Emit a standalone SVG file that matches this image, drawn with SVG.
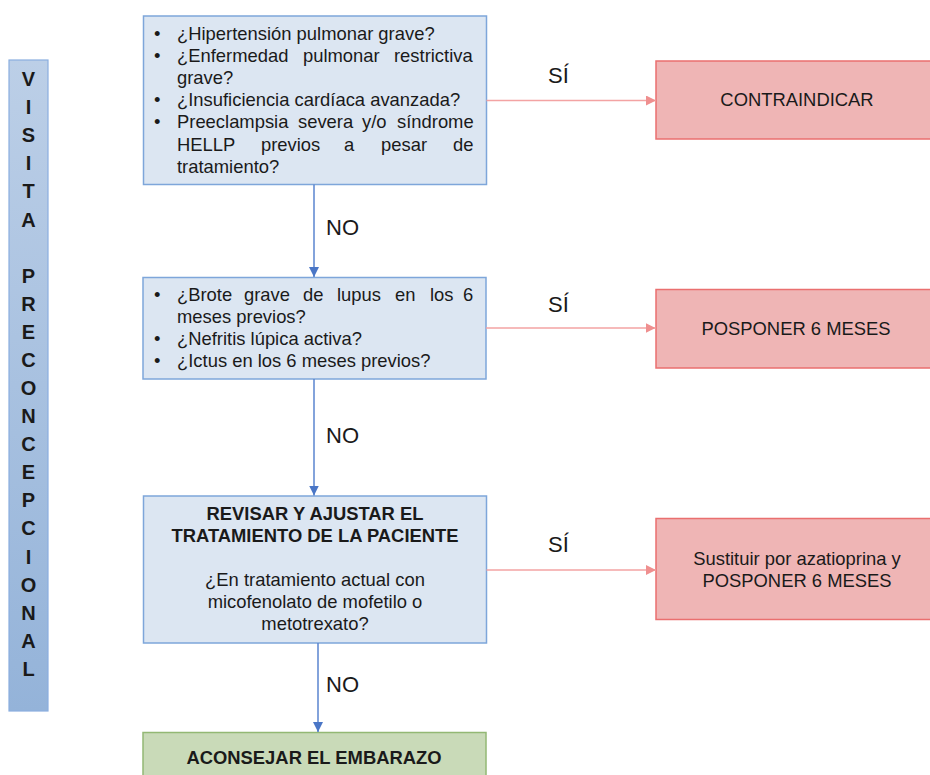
<svg xmlns="http://www.w3.org/2000/svg" width="930" height="775" viewBox="0 0 930 775">
<defs>
<linearGradient id="barGrad" x1="0" y1="0" x2="0" y2="1">
<stop offset="0" stop-color="#bccfe7"/>
<stop offset="1" stop-color="#94b3d9"/>
</linearGradient>
<marker id="arrBlue" viewBox="0 0 10 10" refX="10" refY="5" markerWidth="10" markerHeight="10" markerUnits="userSpaceOnUse" orient="auto">
<path d="M0,0 L10,5 L0,10 z" fill="#4a76c6"/>
</marker>
<marker id="arrRed" viewBox="0 0 10 10" refX="10" refY="5" markerWidth="10" markerHeight="10" markerUnits="userSpaceOnUse" orient="auto">
<path d="M0,0 L10,5 L0,10 z" fill="#ef8f8f"/>
</marker>
</defs>
<style>
text { font-family: "Liberation Sans", Arial, sans-serif; fill: #1a1a1a; font-size: 18.4px; }
.b { font-weight: bold; }
.c { text-anchor: middle; }
.q { fill: #dce6f2; stroke: #7ea6da; stroke-width: 1.5; }
.r { fill: #efb5b5; stroke: #ea6f6f; stroke-width: 1.5; }
.g { fill: #c9dab8; stroke: #93b874; stroke-width: 1.5; }
.bl { stroke: #5a84cf; stroke-width: 1.5; fill: none; }
.rl { stroke: #f3a3a3; stroke-width: 1.5; fill: none; }
.v { font-weight: bold; text-anchor: middle; font-size: 20px; }
.lbl { font-size: 22px; }
</style>
<rect width="930" height="775" fill="#ffffff"/>

<g id="side-bar">
<rect x="9" y="60" width="39" height="651" fill="url(#barGrad)" stroke="#8aaee0" stroke-width="1.2"/>
<text class="v" x="28.5" y="86">V</text>
<text class="v" x="28.5" y="114">I</text>
<text class="v" x="28.5" y="142">S</text>
<text class="v" x="28.5" y="170">I</text>
<text class="v" x="28.5" y="198">T</text>
<text class="v" x="28.5" y="227">A</text>
<text class="v" x="28.5" y="283">P</text>
<text class="v" x="28.5" y="311">R</text>
<text class="v" x="28.5" y="339">E</text>
<text class="v" x="28.5" y="367">C</text>
<text class="v" x="28.5" y="395">O</text>
<text class="v" x="28.5" y="423">N</text>
<text class="v" x="28.5" y="451">C</text>
<text class="v" x="28.5" y="479">E</text>
<text class="v" x="28.5" y="507">P</text>
<text class="v" x="28.5" y="535">C</text>
<text class="v" x="28.5" y="564">I</text>
<text class="v" x="28.5" y="592">O</text>
<text class="v" x="28.5" y="620">N</text>
<text class="v" x="28.5" y="648">A</text>
<text class="v" x="28.5" y="676">L</text>
</g>

<g id="q1">
<rect class="q" x="143.5" y="16" width="343" height="168.5"/>
<text x="154" y="39.5">•</text><text x="177" y="39.5">¿Hipertensión pulmonar grave?</text>
<text x="154" y="61.7">•</text><text y="61.7"><tspan x="177">¿Enfermedad</tspan><tspan x="303">pulmonar</tspan><tspan x="394">restrictiva</tspan></text>
<text x="177" y="83.9">grave?</text>
<text x="154" y="106.1">•</text><text x="177" y="106.1">¿Insuficiencia cardíaca avanzada?</text>
<text x="154" y="128.3">•</text><text y="128.3"><tspan x="177">Preeclampsia</tspan><tspan x="298">severa</tspan><tspan x="362">y/o</tspan><tspan x="397">síndrome</tspan></text>
<text y="150.5"><tspan x="177">HELLP</tspan><tspan x="261">previos</tspan><tspan x="344">a</tspan><tspan x="381">pesar</tspan><tspan x="453">de</tspan></text>
<text x="177" y="172.7">tratamiento?</text>
</g>

<g id="q2">
<rect class="q" x="143" y="277.5" width="343" height="101.5"/>
<text x="154" y="300.7">•</text><text y="300.7"><tspan x="177">¿Brote</tspan><tspan x="244">grave</tspan><tspan x="303">de</tspan><tspan x="337">lupus</tspan><tspan x="395">en</tspan><tspan x="430">los</tspan><tspan x="463">6</tspan></text>
<text x="177" y="322.9">meses previos?</text>
<text x="154" y="345.1">•</text><text x="177" y="345.1">¿Nefritis lúpica activa?</text>
<text x="154" y="367.3">•</text><text x="177" y="367.3">¿Ictus en los 6 meses previos?</text>
</g>

<g id="q3">
<rect class="q" x="143.5" y="496" width="343" height="147"/>
<text class="b c" x="315" y="519.5">REVISAR Y AJUSTAR EL</text>
<text class="b c" x="315" y="542">TRATAMIENTO DE LA PACIENTE</text>
<text class="c" x="315" y="586">¿En tratamiento actual con</text>
<text class="c" x="315" y="608">micofenolato de mofetilo o</text>
<text class="c" x="315" y="630">metotrexato?</text>
</g>

<g id="result-embarazo">
<rect class="g" x="143" y="732.5" width="343" height="60"/>
<text class="b c" x="314" y="763.5">ACONSEJAR EL EMBARAZO</text>
</g>

<g id="result-contraindicar">
<rect class="r" x="656" y="61" width="290" height="78"/>
<text class="c" x="797" y="106">CONTRAINDICAR</text>
</g>

<g id="result-posponer">
<rect class="r" x="656" y="289.5" width="290" height="78.5"/>
<text class="c" x="796" y="334.5">POSPONER 6 MESES</text>
</g>

<g id="result-sustituir">
<rect class="r" x="656" y="518.5" width="290" height="101"/>
<text class="c" x="797" y="565">Sustituir por azatioprina y</text>
<text class="c" x="797" y="586.5">POSPONER 6 MESES</text>
</g>

<g id="connectors">
<line class="bl" x1="314" y1="184.5" x2="314" y2="277" marker-end="url(#arrBlue)"/>
<line class="bl" x1="314" y1="379" x2="314" y2="495.5" marker-end="url(#arrBlue)"/>
<line class="bl" x1="318" y1="643" x2="318" y2="732" marker-end="url(#arrBlue)"/>
<line class="rl" x1="486.5" y1="100.5" x2="656" y2="100.5" marker-end="url(#arrRed)"/>
<line class="rl" x1="486" y1="328" x2="655.5" y2="328" marker-end="url(#arrRed)"/>
<line class="rl" x1="486.5" y1="570" x2="656" y2="570" marker-end="url(#arrRed)"/>
<text class="lbl" x="326" y="235">NO</text>
<text class="lbl" x="326" y="443">NO</text>
<text class="lbl" x="326" y="692">NO</text>
<text class="lbl" x="548" y="83">SÍ</text>
<text class="lbl" x="548" y="312">SÍ</text>
<text class="lbl" x="548" y="552">SÍ</text>
</g>
</svg>
